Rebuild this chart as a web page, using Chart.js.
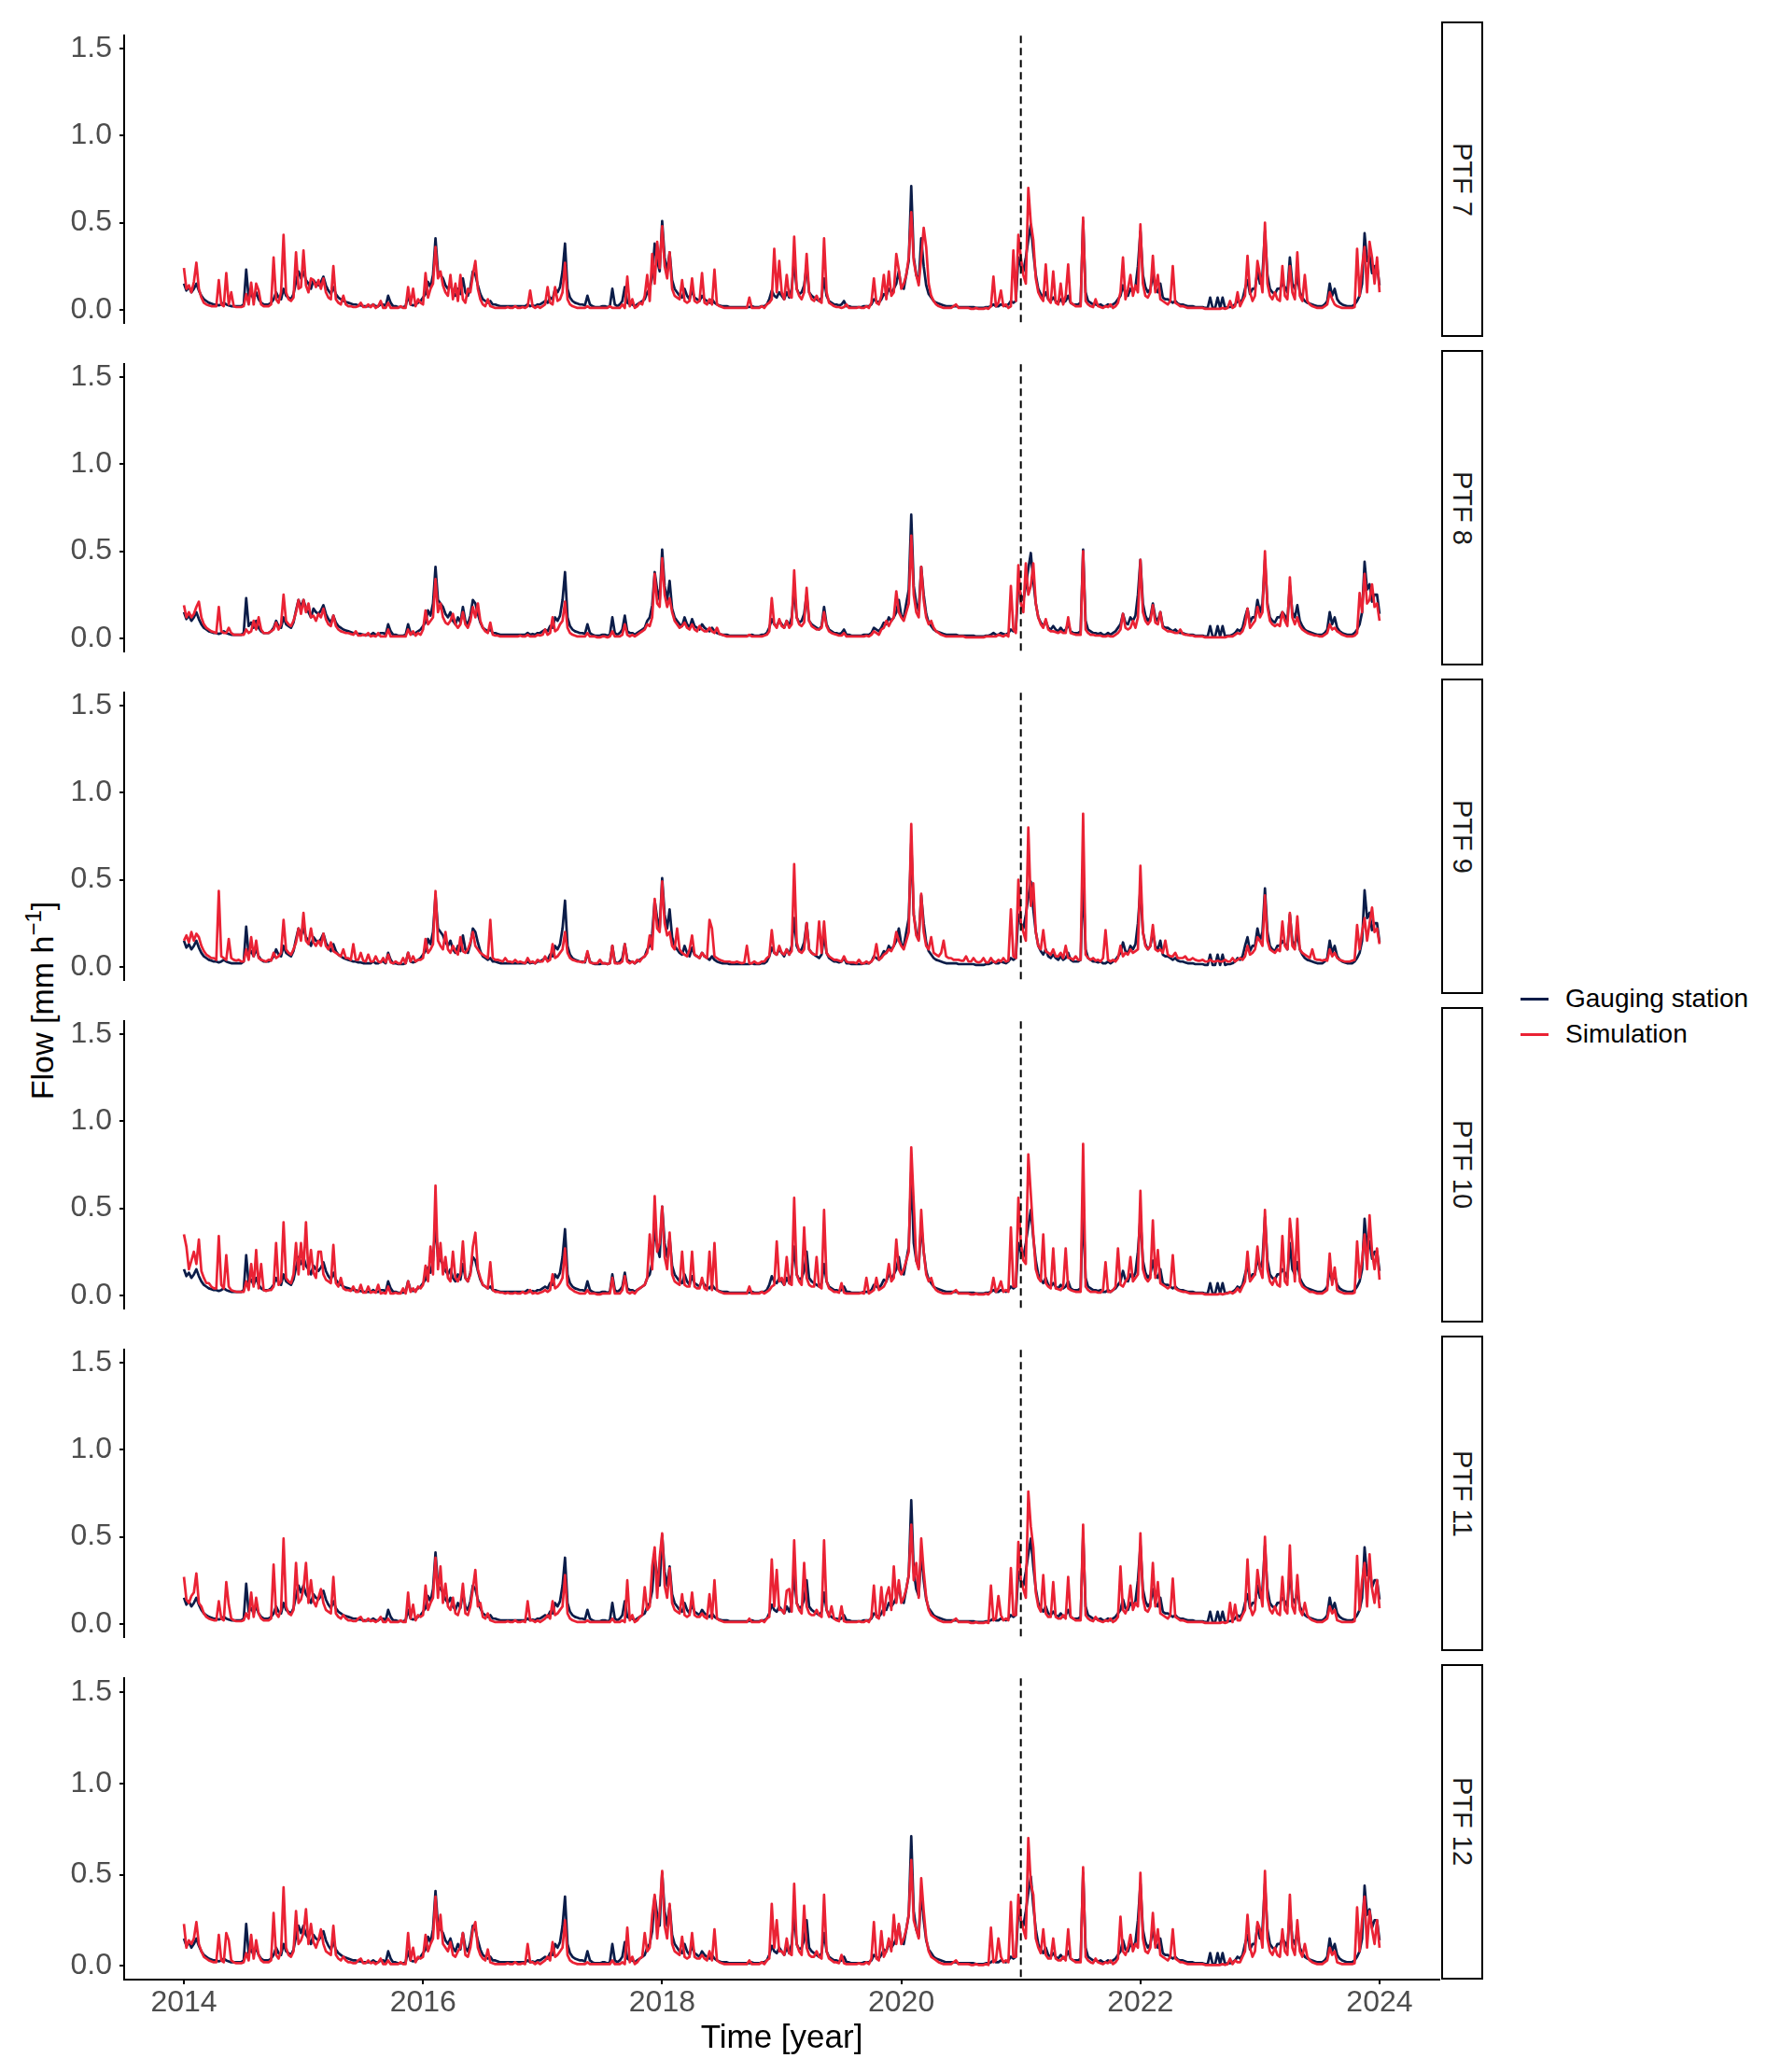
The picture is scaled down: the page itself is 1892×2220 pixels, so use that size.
<!DOCTYPE html>
<html>
<head>
<meta charset="utf-8">
<script src="https://cdn.jsdelivr.net/npm/chart.js@4.4.1/dist/chart.umd.min.js"></script>
<style>
  body { margin: 0; background: #fff; }
  #page { position: relative; width: 1892px; height: 2220px; overflow: hidden; font-family: "Liberation Sans", Arial, sans-serif; }
  .panel { position: absolute; left: 0; }
  .strip { position: absolute; left: 1544px; width: 41px; border: 2px solid #000; background: #fff;
           display: flex; align-items: center; justify-content: center; }
  .strip span { writing-mode: vertical-rl; font-size: 29px; color: #1a1a1a; white-space: nowrap; }
  #ytitle { position: absolute; left: 45px; top: 1072px; transform: translate(-50%, -50%) rotate(-90deg);
            font-size: 34px; color: #000; white-space: nowrap; }
  #ytitle sup { font-size: 24px; vertical-align: 13px; line-height: 0; }
  .key { position: absolute; left: 1629px; width: 30px; height: 3px; }
  .keytext { position: absolute; left: 1677px; font-size: 28px; color: #000; white-space: nowrap; transform: translateY(-50%); }
</style>
</head>
<body>
<div id="page">
  <div id="ytitle">Flow [mm h<sup>−1</sup>]</div>
  <div class="key" style="top:1069px;background:#0b1c48"></div>
  <div class="keytext" style="top:1070px">Gauging station</div>
  <div class="key" style="top:1107px;background:#ea2234"></div>
  <div class="keytext" style="top:1108px">Simulation</div>
</div>
<script>
// time grid: 48 steps per year from 2014.0 to 2024.0
const startYear = 2014;
const stepsPerYear = 48;
const splitYear = 2021;
const xTicks = [2014, 2016, 2018, 2020, 2022, 2024];
const yTicks = [0, 0.5, 1.0, 1.5];
const panelLabels = ['PTF 7', 'PTF 8', 'PTF 9', 'PTF 10', 'PTF 11', 'PTF 12'];

// gauging station (same in every panel)
const obsFlow = [
  0.15,0.11,0.13,0.10,0.12,0.15,0.11,0.08,0.06,0.05,0.04,0.035,0.03,0.03,0.025,0.03,0.04,0.03,0.025,0.02,0.02,0.02,0.02,0.02,0.03,0.23,0.07,0.09,0.06,0.10,0.06,0.04,0.03,0.03,0.03,0.04,0.06,0.10,0.07,0.06,0.12,0.08,0.07,0.06,0.09,0.16,0.22,0.18, // 2014
  0.22,0.17,0.15,0.12,0.17,0.15,0.14,0.16,0.19,0.14,0.11,0.09,0.13,0.09,0.07,0.06,0.05,0.045,0.04,0.035,0.03,0.03,0.025,0.025,0.02,0.02,0.02,0.02,0.03,0.02,0.02,0.03,0.03,0.02,0.08,0.04,0.02,0.02,0.015,0.015,0.015,0.02,0.08,0.03,0.025,0.03,0.04,0.05, // 2015
  0.07,0.09,0.16,0.13,0.20,0.41,0.22,0.20,0.18,0.14,0.12,0.15,0.10,0.08,0.12,0.09,0.18,0.10,0.08,0.13,0.22,0.20,0.14,0.09,0.06,0.05,0.04,0.05,0.03,0.03,0.025,0.02,0.02,0.02,0.02,0.02,0.02,0.02,0.02,0.02,0.02,0.02,0.03,0.02,0.025,0.02,0.03,0.03, // 2016
  0.04,0.05,0.04,0.07,0.06,0.12,0.10,0.13,0.22,0.38,0.12,0.07,0.05,0.04,0.035,0.03,0.03,0.025,0.08,0.03,0.02,0.015,0.015,0.015,0.02,0.02,0.015,0.02,0.12,0.03,0.02,0.03,0.05,0.13,0.04,0.03,0.03,0.02,0.03,0.04,0.05,0.06,0.10,0.12,0.19,0.38,0.28,0.22, // 2017
  0.51,0.30,0.22,0.33,0.17,0.12,0.10,0.08,0.07,0.12,0.08,0.06,0.11,0.07,0.06,0.05,0.08,0.06,0.05,0.04,0.06,0.04,0.03,0.025,0.02,0.02,0.02,0.015,0.015,0.015,0.015,0.015,0.015,0.015,0.015,0.015,0.02,0.015,0.015,0.015,0.02,0.02,0.03,0.06,0.11,0.08,0.07,0.10, // 2018
  0.08,0.06,0.10,0.07,0.12,0.28,0.12,0.09,0.10,0.14,0.25,0.10,0.08,0.07,0.06,0.05,0.07,0.18,0.08,0.05,0.04,0.03,0.03,0.025,0.03,0.05,0.02,0.02,0.015,0.015,0.015,0.015,0.015,0.02,0.02,0.02,0.03,0.06,0.05,0.04,0.06,0.09,0.08,0.12,0.10,0.12,0.15,0.22, // 2019
  0.13,0.12,0.20,0.28,0.71,0.30,0.20,0.16,0.41,0.25,0.14,0.09,0.07,0.05,0.04,0.035,0.03,0.025,0.02,0.02,0.02,0.02,0.02,0.015,0.015,0.015,0.015,0.015,0.015,0.015,0.01,0.01,0.01,0.01,0.015,0.015,0.02,0.03,0.02,0.02,0.03,0.025,0.02,0.03,0.05,0.04,0.05,0.30, // 2020
  0.25,0.22,0.30,0.40,0.49,0.33,0.20,0.12,0.09,0.07,0.10,0.06,0.05,0.07,0.05,0.04,0.06,0.04,0.05,0.08,0.04,0.03,0.03,0.03,0.04,0.51,0.10,0.05,0.04,0.03,0.03,0.025,0.03,0.02,0.02,0.03,0.02,0.03,0.04,0.06,0.08,0.14,0.09,0.08,0.12,0.10,0.13,0.25, // 2021
  0.45,0.20,0.13,0.10,0.12,0.20,0.12,0.10,0.15,0.07,0.06,0.06,0.05,0.04,0.05,0.035,0.03,0.03,0.025,0.02,0.02,0.02,0.015,0.015,0.015,0.015,0.01,0.01,0.07,0.01,0.01,0.07,0.01,0.07,0.01,0.015,0.015,0.02,0.03,0.05,0.04,0.06,0.12,0.17,0.09,0.12,0.12,0.22, // 2022
  0.15,0.20,0.45,0.20,0.12,0.10,0.09,0.12,0.12,0.15,0.13,0.10,0.30,0.15,0.12,0.19,0.10,0.07,0.05,0.04,0.035,0.03,0.025,0.02,0.02,0.02,0.03,0.05,0.15,0.08,0.12,0.06,0.04,0.03,0.025,0.02,0.02,0.02,0.03,0.05,0.08,0.15,0.44,0.28,0.31,0.21,0.25,0.25, // 2023
  0.14
];

const simPTF7 = [
  0.24,0.12,0.14,0.10,0.16,0.27,0.12,0.07,0.04,0.03,0.025,0.02,0.02,0.02,0.17,0.03,0.02,0.21,0.03,0.10,0.02,0.015,0.015,0.015,0.02,0.09,0.03,0.155,0.03,0.15,0.11,0.03,0.02,0.02,0.02,0.03,0.30,0.06,0.04,0.10,0.43,0.10,0.06,0.05,0.07,0.33,0.12,0.13,
  0.34,0.14,0.10,0.18,0.17,0.13,0.17,0.12,0.18,0.10,0.07,0.06,0.25,0.06,0.04,0.03,0.08,0.03,0.02,0.02,0.015,0.015,0.02,0.04,0.015,0.015,0.03,0.015,0.03,0.01,0.02,0.05,0.01,0.01,0.04,0.01,0.01,0.01,0.01,0.02,0.01,0.01,0.13,0.03,0.12,0.02,0.06,0.04,
  0.03,0.21,0.07,0.12,0.15,0.36,0.18,0.22,0.14,0.10,0.08,0.20,0.06,0.15,0.05,0.20,0.06,0.04,0.12,0.10,0.20,0.28,0.12,0.06,0.03,0.02,0.06,0.02,0.015,0.01,0.01,0.01,0.01,0.01,0.015,0.01,0.01,0.02,0.01,0.01,0.015,0.01,0.02,0.11,0.02,0.01,0.02,0.01,
  0.02,0.03,0.13,0.04,0.03,0.13,0.05,0.06,0.10,0.27,0.06,0.03,0.02,0.015,0.01,0.01,0.01,0.01,0.02,0.01,0.01,0.01,0.01,0.01,0.01,0.01,0.01,0.02,0.01,0.01,0.01,0.01,0.03,0.01,0.19,0.02,0.06,0.01,0.02,0.04,0.03,0.08,0.20,0.05,0.32,0.15,0.39,0.24,
  0.48,0.25,0.18,0.33,0.12,0.08,0.07,0.06,0.17,0.05,0.04,0.05,0.18,0.05,0.04,0.05,0.21,0.04,0.03,0.06,0.03,0.23,0.03,0.02,0.015,0.01,0.01,0.01,0.01,0.01,0.01,0.01,0.01,0.01,0.01,0.07,0.01,0.01,0.01,0.01,0.02,0.01,0.03,0.04,0.06,0.35,0.10,0.28,
  0.10,0.06,0.20,0.08,0.07,0.42,0.12,0.08,0.06,0.10,0.32,0.10,0.06,0.05,0.08,0.05,0.04,0.41,0.10,0.04,0.03,0.02,0.015,0.015,0.01,0.015,0.03,0.01,0.01,0.01,0.01,0.015,0.01,0.01,0.02,0.01,0.04,0.18,0.04,0.03,0.08,0.20,0.06,0.22,0.08,0.10,0.32,0.23,
  0.12,0.15,0.20,0.30,0.56,0.28,0.20,0.14,0.30,0.47,0.36,0.15,0.08,0.05,0.03,0.02,0.015,0.01,0.01,0.01,0.01,0.02,0.03,0.01,0.01,0.01,0.01,0.01,0.005,0.005,0.01,0.005,0.005,0.005,0.01,0.005,0.02,0.19,0.02,0.04,0.11,0.02,0.03,0.01,0.02,0.34,0.05,0.43,
  0.30,0.20,0.15,0.70,0.50,0.40,0.18,0.10,0.07,0.05,0.26,0.06,0.04,0.22,0.04,0.03,0.15,0.03,0.08,0.26,0.04,0.03,0.02,0.02,0.02,0.53,0.05,0.03,0.02,0.015,0.06,0.02,0.015,0.01,0.02,0.015,0.03,0.01,0.02,0.04,0.10,0.30,0.06,0.12,0.20,0.08,0.14,0.10,
  0.49,0.15,0.08,0.07,0.10,0.31,0.10,0.20,0.06,0.05,0.04,0.03,0.05,0.25,0.04,0.03,0.02,0.02,0.015,0.01,0.01,0.01,0.01,0.01,0.01,0.01,0.005,0.005,0.005,0.005,0.005,0.005,0.005,0.01,0.005,0.01,0.05,0.01,0.02,0.10,0.02,0.05,0.08,0.31,0.10,0.05,0.08,0.28,
  0.20,0.10,0.50,0.15,0.08,0.06,0.10,0.06,0.05,0.25,0.08,0.06,0.25,0.10,0.06,0.33,0.08,0.05,0.20,0.05,0.03,0.02,0.015,0.01,0.01,0.01,0.02,0.03,0.10,0.06,0.03,0.02,0.015,0.01,0.01,0.01,0.01,0.01,0.015,0.35,0.08,0.25,0.36,0.10,0.39,0.30,0.15,0.30,
  0.10
];

const simPTF8 = [
  0.19,0.12,0.15,0.12,0.14,0.18,0.21,0.12,0.08,0.06,0.05,0.04,0.035,0.03,0.18,0.04,0.03,0.03,0.06,0.03,0.02,0.02,0.02,0.02,0.02,0.05,0.03,0.04,0.10,0.05,0.12,0.05,0.03,0.03,0.03,0.04,0.05,0.09,0.05,0.08,0.25,0.10,0.08,0.07,0.10,0.15,0.22,0.14,
  0.22,0.15,0.20,0.12,0.13,0.10,0.14,0.12,0.17,0.11,0.08,0.07,0.13,0.07,0.05,0.04,0.035,0.03,0.03,0.025,0.02,0.04,0.015,0.015,0.02,0.015,0.03,0.01,0.015,0.01,0.03,0.01,0.01,0.01,0.05,0.01,0.01,0.01,0.01,0.01,0.01,0.01,0.05,0.02,0.04,0.015,0.03,0.02,
  0.05,0.16,0.08,0.10,0.12,0.34,0.15,0.20,0.12,0.09,0.08,0.10,0.14,0.08,0.06,0.08,0.15,0.08,0.06,0.10,0.18,0.12,0.20,0.10,0.06,0.04,0.03,0.09,0.02,0.015,0.015,0.01,0.01,0.01,0.01,0.01,0.01,0.01,0.01,0.015,0.01,0.01,0.02,0.01,0.01,0.01,0.02,0.015,
  0.02,0.05,0.02,0.03,0.12,0.04,0.05,0.08,0.10,0.21,0.06,0.03,0.02,0.015,0.01,0.01,0.01,0.01,0.03,0.01,0.01,0.01,0.005,0.005,0.01,0.01,0.005,0.01,0.04,0.01,0.01,0.01,0.02,0.08,0.02,0.01,0.02,0.01,0.02,0.03,0.04,0.05,0.08,0.07,0.12,0.37,0.20,0.18,
  0.46,0.25,0.18,0.23,0.15,0.10,0.08,0.06,0.07,0.09,0.06,0.05,0.08,0.05,0.04,0.07,0.05,0.04,0.04,0.06,0.04,0.03,0.06,0.025,0.02,0.015,0.01,0.01,0.01,0.01,0.01,0.01,0.01,0.01,0.01,0.02,0.01,0.01,0.01,0.01,0.01,0.015,0.02,0.04,0.23,0.08,0.06,0.11,
  0.07,0.06,0.10,0.06,0.08,0.39,0.12,0.08,0.07,0.09,0.29,0.10,0.07,0.06,0.05,0.05,0.06,0.15,0.07,0.04,0.03,0.025,0.02,0.015,0.015,0.03,0.01,0.01,0.01,0.01,0.01,0.01,0.01,0.01,0.015,0.01,0.02,0.04,0.03,0.02,0.05,0.06,0.10,0.07,0.10,0.12,0.27,0.15,
  0.12,0.10,0.15,0.20,0.59,0.25,0.15,0.12,0.41,0.22,0.12,0.08,0.10,0.06,0.04,0.03,0.02,0.015,0.01,0.01,0.01,0.01,0.01,0.01,0.01,0.01,0.005,0.005,0.005,0.005,0.005,0.005,0.005,0.005,0.01,0.01,0.01,0.01,0.01,0.02,0.015,0.01,0.02,0.01,0.30,0.05,0.03,0.42,
  0.20,0.15,0.43,0.25,0.30,0.43,0.20,0.12,0.08,0.06,0.11,0.05,0.04,0.04,0.035,0.03,0.04,0.03,0.03,0.12,0.03,0.025,0.02,0.02,0.02,0.50,0.05,0.03,0.02,0.02,0.015,0.015,0.015,0.01,0.01,0.015,0.01,0.01,0.02,0.03,0.05,0.14,0.06,0.05,0.06,0.10,0.06,0.12,
  0.45,0.15,0.10,0.08,0.10,0.19,0.09,0.08,0.15,0.06,0.05,0.04,0.04,0.035,0.03,0.03,0.05,0.025,0.02,0.02,0.015,0.015,0.01,0.01,0.01,0.01,0.005,0.005,0.005,0.005,0.005,0.005,0.005,0.005,0.005,0.01,0.01,0.01,0.02,0.03,0.025,0.04,0.08,0.17,0.06,0.08,0.10,0.18,
  0.12,0.15,0.50,0.18,0.10,0.08,0.07,0.08,0.07,0.15,0.10,0.07,0.35,0.12,0.08,0.12,0.07,0.05,0.04,0.03,0.025,0.02,0.015,0.015,0.01,0.01,0.02,0.03,0.08,0.05,0.06,0.04,0.03,0.02,0.015,0.01,0.01,0.01,0.015,0.03,0.26,0.15,0.37,0.20,0.22,0.31,0.18,0.20,
  0.10
];

const simPTF9 = [
  0.15,0.18,0.14,0.20,0.15,0.19,0.17,0.12,0.09,0.07,0.06,0.05,0.05,0.04,0.435,0.06,0.05,0.04,0.16,0.05,0.04,0.035,0.04,0.03,0.03,0.10,0.04,0.17,0.06,0.15,0.05,0.04,0.035,0.03,0.04,0.035,0.08,0.05,0.06,0.08,0.27,0.10,0.08,0.07,0.10,0.14,0.22,0.15,
  0.31,0.15,0.13,0.22,0.14,0.12,0.15,0.12,0.19,0.12,0.10,0.14,0.09,0.08,0.07,0.06,0.10,0.05,0.05,0.04,0.13,0.04,0.04,0.08,0.035,0.03,0.07,0.03,0.03,0.06,0.03,0.025,0.05,0.025,0.07,0.025,0.02,0.03,0.02,0.02,0.05,0.02,0.08,0.03,0.06,0.03,0.04,0.04,
  0.05,0.16,0.08,0.10,0.13,0.435,0.15,0.12,0.10,0.20,0.10,0.08,0.12,0.09,0.07,0.17,0.09,0.08,0.10,0.14,0.20,0.12,0.10,0.08,0.07,0.06,0.05,0.27,0.05,0.04,0.04,0.035,0.03,0.05,0.03,0.03,0.025,0.04,0.025,0.03,0.025,0.02,0.05,0.025,0.03,0.02,0.04,0.03,
  0.03,0.06,0.03,0.04,0.13,0.05,0.06,0.08,0.10,0.20,0.08,0.05,0.04,0.035,0.03,0.03,0.025,0.03,0.09,0.025,0.02,0.02,0.02,0.04,0.02,0.02,0.015,0.02,0.12,0.02,0.02,0.02,0.03,0.13,0.03,0.02,0.03,0.02,0.04,0.03,0.05,0.06,0.08,0.18,0.10,0.39,0.22,0.20,
  0.49,0.25,0.18,0.20,0.12,0.10,0.22,0.10,0.08,0.07,0.06,0.10,0.18,0.07,0.06,0.05,0.08,0.06,0.05,0.27,0.22,0.06,0.05,0.04,0.035,0.03,0.03,0.03,0.025,0.025,0.03,0.025,0.02,0.025,0.12,0.02,0.02,0.03,0.02,0.02,0.03,0.03,0.05,0.06,0.21,0.08,0.07,0.12,
  0.08,0.07,0.10,0.07,0.09,0.59,0.14,0.09,0.08,0.10,0.25,0.10,0.08,0.07,0.07,0.26,0.08,0.26,0.08,0.06,0.05,0.04,0.04,0.035,0.03,0.06,0.03,0.025,0.025,0.025,0.02,0.04,0.02,0.02,0.03,0.02,0.03,0.05,0.13,0.04,0.05,0.07,0.08,0.10,0.09,0.12,0.20,0.15,
  0.12,0.10,0.15,0.20,0.82,0.30,0.18,0.15,0.42,0.20,0.12,0.10,0.17,0.08,0.07,0.06,0.08,0.15,0.06,0.05,0.05,0.04,0.04,0.04,0.035,0.035,0.06,0.03,0.03,0.05,0.03,0.025,0.03,0.05,0.025,0.025,0.05,0.03,0.025,0.04,0.03,0.05,0.03,0.035,0.33,0.06,0.05,0.50,
  0.25,0.20,0.15,0.80,0.35,0.48,0.20,0.12,0.10,0.21,0.09,0.08,0.07,0.10,0.06,0.06,0.08,0.05,0.12,0.05,0.05,0.04,0.06,0.04,0.04,0.88,0.07,0.05,0.04,0.05,0.035,0.04,0.03,0.05,0.21,0.04,0.03,0.04,0.03,0.05,0.12,0.06,0.08,0.07,0.10,0.08,0.09,0.10,
  0.58,0.20,0.12,0.10,0.12,0.24,0.10,0.09,0.10,0.08,0.15,0.07,0.06,0.06,0.08,0.05,0.05,0.05,0.06,0.04,0.04,0.05,0.04,0.035,0.035,0.04,0.03,0.03,0.04,0.03,0.03,0.035,0.03,0.03,0.04,0.03,0.03,0.05,0.03,0.04,0.05,0.04,0.06,0.12,0.07,0.08,0.10,0.17,
  0.15,0.12,0.41,0.15,0.10,0.09,0.08,0.10,0.09,0.26,0.12,0.10,0.31,0.12,0.10,0.29,0.10,0.08,0.07,0.06,0.05,0.10,0.045,0.04,0.04,0.035,0.04,0.035,0.10,0.06,0.08,0.05,0.04,0.035,0.03,0.03,0.03,0.035,0.04,0.24,0.10,0.20,0.28,0.15,0.25,0.34,0.20,0.22,
  0.13
];

const simPTF10 = [
  0.35,0.28,0.15,0.20,0.25,0.18,0.32,0.14,0.10,0.07,0.07,0.05,0.04,0.04,0.34,0.06,0.04,0.23,0.05,0.03,0.025,0.02,0.02,0.02,0.02,0.08,0.03,0.18,0.05,0.26,0.04,0.18,0.03,0.025,0.03,0.03,0.05,0.30,0.06,0.08,0.42,0.10,0.08,0.07,0.12,0.30,0.12,0.30,
  0.15,0.42,0.12,0.26,0.13,0.10,0.25,0.25,0.12,0.09,0.08,0.07,0.29,0.07,0.05,0.10,0.04,0.03,0.03,0.025,0.05,0.02,0.02,0.06,0.015,0.015,0.05,0.015,0.02,0.015,0.06,0.01,0.015,0.01,0.05,0.01,0.01,0.015,0.01,0.01,0.04,0.01,0.08,0.02,0.04,0.02,0.05,0.04,
  0.06,0.17,0.08,0.28,0.12,0.63,0.15,0.30,0.12,0.22,0.10,0.08,0.25,0.10,0.08,0.12,0.31,0.10,0.08,0.12,0.28,0.36,0.15,0.10,0.06,0.05,0.04,0.19,0.03,0.02,0.02,0.015,0.015,0.01,0.015,0.01,0.01,0.015,0.01,0.01,0.02,0.01,0.015,0.03,0.01,0.015,0.01,0.015,
  0.02,0.03,0.02,0.03,0.12,0.04,0.05,0.07,0.10,0.27,0.06,0.04,0.03,0.02,0.015,0.01,0.01,0.01,0.03,0.01,0.01,0.01,0.005,0.005,0.01,0.01,0.01,0.01,0.10,0.01,0.01,0.01,0.03,0.11,0.02,0.01,0.02,0.01,0.03,0.04,0.05,0.06,0.10,0.35,0.15,0.57,0.25,0.30,
  0.51,0.22,0.15,0.36,0.12,0.08,0.07,0.06,0.25,0.06,0.05,0.05,0.25,0.05,0.04,0.04,0.10,0.04,0.03,0.25,0.03,0.30,0.03,0.02,0.015,0.01,0.01,0.01,0.01,0.01,0.01,0.01,0.01,0.01,0.01,0.05,0.01,0.01,0.01,0.01,0.02,0.01,0.02,0.03,0.05,0.06,0.31,0.08,
  0.10,0.06,0.22,0.07,0.06,0.56,0.12,0.08,0.06,0.39,0.10,0.06,0.05,0.05,0.22,0.05,0.04,0.49,0.08,0.04,0.03,0.02,0.02,0.015,0.07,0.015,0.01,0.01,0.01,0.01,0.01,0.01,0.015,0.01,0.10,0.01,0.02,0.03,0.10,0.03,0.04,0.05,0.08,0.18,0.08,0.10,0.32,0.15,
  0.12,0.15,0.20,0.25,0.85,0.53,0.20,0.15,0.49,0.25,0.12,0.08,0.10,0.05,0.03,0.02,0.015,0.01,0.01,0.01,0.01,0.02,0.03,0.01,0.01,0.01,0.01,0.01,0.005,0.005,0.01,0.005,0.005,0.005,0.01,0.005,0.02,0.10,0.02,0.04,0.08,0.02,0.03,0.02,0.39,0.05,0.05,0.56,
  0.30,0.20,0.18,0.81,0.58,0.35,0.15,0.10,0.08,0.35,0.07,0.05,0.04,0.27,0.04,0.035,0.03,0.05,0.27,0.04,0.03,0.025,0.02,0.02,0.02,0.87,0.05,0.03,0.02,0.02,0.02,0.015,0.015,0.03,0.19,0.02,0.02,0.03,0.05,0.27,0.06,0.05,0.08,0.10,0.22,0.08,0.10,0.12,
  0.60,0.15,0.10,0.08,0.10,0.43,0.10,0.26,0.07,0.06,0.05,0.04,0.05,0.23,0.04,0.03,0.025,0.02,0.02,0.015,0.01,0.01,0.01,0.01,0.01,0.01,0.005,0.005,0.005,0.005,0.005,0.005,0.01,0.005,0.01,0.01,0.02,0.01,0.02,0.04,0.02,0.05,0.08,0.25,0.08,0.10,0.12,0.28,
  0.15,0.10,0.49,0.15,0.08,0.06,0.10,0.06,0.05,0.34,0.08,0.06,0.44,0.30,0.08,0.44,0.08,0.05,0.04,0.03,0.02,0.02,0.015,0.01,0.01,0.01,0.02,0.03,0.24,0.06,0.16,0.03,0.02,0.015,0.01,0.01,0.01,0.01,0.015,0.31,0.10,0.20,0.35,0.15,0.46,0.25,0.15,0.27,
  0.09
];

const simPTF11 = [
  0.27,0.14,0.12,0.16,0.18,0.29,0.12,0.10,0.06,0.04,0.03,0.025,0.02,0.02,0.13,0.03,0.02,0.24,0.11,0.03,0.02,0.015,0.015,0.015,0.02,0.06,0.03,0.18,0.04,0.15,0.06,0.03,0.02,0.02,0.02,0.03,0.34,0.06,0.04,0.08,0.49,0.10,0.06,0.05,0.08,0.35,0.12,0.14,
  0.20,0.35,0.12,0.25,0.13,0.10,0.15,0.20,0.12,0.08,0.07,0.06,0.27,0.06,0.04,0.03,0.05,0.03,0.02,0.02,0.015,0.015,0.03,0.04,0.015,0.015,0.03,0.015,0.02,0.01,0.02,0.04,0.01,0.01,0.03,0.01,0.01,0.01,0.01,0.02,0.01,0.01,0.18,0.03,0.11,0.02,0.05,0.04,
  0.05,0.22,0.08,0.12,0.15,0.38,0.15,0.33,0.12,0.23,0.10,0.08,0.15,0.06,0.05,0.10,0.23,0.06,0.05,0.10,0.20,0.31,0.10,0.12,0.04,0.03,0.06,0.02,0.015,0.01,0.01,0.01,0.01,0.01,0.015,0.01,0.01,0.02,0.01,0.01,0.015,0.01,0.13,0.02,0.02,0.01,0.02,0.01,
  0.02,0.03,0.05,0.03,0.13,0.05,0.06,0.08,0.10,0.28,0.06,0.03,0.02,0.015,0.01,0.01,0.01,0.01,0.02,0.01,0.01,0.01,0.01,0.01,0.01,0.01,0.01,0.01,0.03,0.01,0.01,0.01,0.02,0.01,0.25,0.02,0.05,0.01,0.02,0.04,0.05,0.21,0.08,0.10,0.33,0.44,0.15,0.38,
  0.52,0.22,0.15,0.32,0.12,0.08,0.07,0.06,0.17,0.05,0.04,0.05,0.18,0.05,0.04,0.04,0.06,0.04,0.03,0.17,0.03,0.25,0.03,0.02,0.015,0.01,0.01,0.01,0.01,0.01,0.01,0.01,0.01,0.01,0.01,0.03,0.01,0.01,0.01,0.01,0.02,0.01,0.03,0.04,0.37,0.10,0.31,0.08,
  0.08,0.06,0.19,0.20,0.07,0.48,0.12,0.08,0.06,0.35,0.10,0.06,0.05,0.05,0.08,0.05,0.04,0.48,0.08,0.04,0.10,0.03,0.02,0.015,0.10,0.015,0.01,0.01,0.01,0.01,0.01,0.015,0.01,0.01,0.02,0.01,0.04,0.22,0.04,0.03,0.21,0.05,0.16,0.21,0.08,0.33,0.12,0.25,
  0.12,0.15,0.20,0.28,0.57,0.25,0.35,0.15,0.49,0.30,0.15,0.08,0.05,0.04,0.03,0.02,0.015,0.01,0.01,0.01,0.01,0.02,0.03,0.01,0.01,0.01,0.01,0.01,0.005,0.005,0.01,0.005,0.005,0.005,0.01,0.005,0.22,0.02,0.03,0.16,0.05,0.02,0.03,0.02,0.32,0.05,0.05,0.47,
  0.25,0.20,0.15,0.76,0.56,0.44,0.18,0.10,0.07,0.28,0.06,0.04,0.04,0.24,0.04,0.03,0.03,0.05,0.03,0.27,0.04,0.03,0.02,0.02,0.02,0.57,0.05,0.03,0.02,0.015,0.04,0.02,0.015,0.01,0.02,0.015,0.03,0.01,0.02,0.04,0.33,0.08,0.06,0.10,0.22,0.08,0.12,0.10,
  0.52,0.15,0.08,0.07,0.10,0.35,0.10,0.24,0.06,0.05,0.04,0.03,0.05,0.26,0.04,0.03,0.02,0.02,0.015,0.01,0.01,0.01,0.01,0.01,0.01,0.01,0.005,0.005,0.005,0.005,0.005,0.005,0.005,0.01,0.005,0.01,0.12,0.01,0.11,0.02,0.02,0.05,0.08,0.37,0.10,0.05,0.08,0.31,
  0.20,0.10,0.50,0.15,0.08,0.06,0.10,0.06,0.05,0.27,0.08,0.06,0.45,0.10,0.06,0.28,0.08,0.05,0.12,0.05,0.03,0.02,0.015,0.01,0.01,0.01,0.02,0.03,0.10,0.06,0.08,0.02,0.015,0.01,0.01,0.01,0.01,0.01,0.015,0.39,0.08,0.25,0.35,0.10,0.40,0.20,0.12,0.25,
  0.09
];

const simPTF12 = [
  0.23,0.10,0.14,0.12,0.15,0.24,0.12,0.08,0.05,0.04,0.03,0.025,0.02,0.02,0.17,0.03,0.02,0.18,0.14,0.03,0.02,0.015,0.015,0.015,0.02,0.07,0.03,0.17,0.04,0.14,0.06,0.03,0.02,0.02,0.02,0.03,0.29,0.06,0.04,0.08,0.43,0.10,0.06,0.05,0.08,0.30,0.12,0.14,
  0.18,0.31,0.12,0.23,0.13,0.10,0.14,0.20,0.12,0.08,0.07,0.06,0.22,0.06,0.04,0.03,0.05,0.03,0.02,0.02,0.015,0.015,0.03,0.04,0.015,0.015,0.03,0.015,0.02,0.01,0.02,0.04,0.01,0.01,0.03,0.01,0.01,0.01,0.01,0.02,0.01,0.01,0.18,0.03,0.10,0.02,0.05,0.04,
  0.05,0.17,0.08,0.12,0.15,0.38,0.15,0.28,0.12,0.10,0.08,0.13,0.06,0.05,0.08,0.10,0.18,0.06,0.05,0.10,0.20,0.24,0.10,0.06,0.04,0.03,0.09,0.02,0.015,0.01,0.01,0.01,0.01,0.01,0.015,0.01,0.01,0.02,0.01,0.01,0.015,0.01,0.12,0.02,0.02,0.01,0.02,0.01,
  0.02,0.03,0.05,0.03,0.13,0.05,0.06,0.08,0.10,0.25,0.06,0.03,0.02,0.015,0.01,0.01,0.01,0.01,0.02,0.01,0.01,0.01,0.01,0.01,0.01,0.01,0.01,0.01,0.03,0.01,0.01,0.01,0.02,0.01,0.21,0.02,0.05,0.01,0.02,0.04,0.05,0.18,0.08,0.10,0.28,0.39,0.15,0.30,
  0.52,0.22,0.15,0.34,0.12,0.08,0.07,0.06,0.16,0.05,0.04,0.05,0.18,0.05,0.04,0.04,0.06,0.04,0.03,0.08,0.03,0.20,0.03,0.02,0.015,0.01,0.01,0.01,0.01,0.01,0.01,0.01,0.01,0.01,0.01,0.03,0.01,0.01,0.01,0.01,0.02,0.01,0.03,0.04,0.34,0.10,0.25,0.08,
  0.08,0.06,0.15,0.07,0.06,0.45,0.12,0.08,0.06,0.33,0.10,0.06,0.05,0.05,0.08,0.05,0.04,0.39,0.08,0.04,0.03,0.02,0.02,0.015,0.06,0.015,0.01,0.01,0.01,0.01,0.01,0.015,0.01,0.01,0.02,0.01,0.04,0.24,0.04,0.03,0.19,0.05,0.08,0.15,0.08,0.28,0.12,0.23,
  0.12,0.15,0.20,0.28,0.58,0.25,0.20,0.15,0.48,0.30,0.15,0.08,0.05,0.04,0.03,0.02,0.015,0.01,0.01,0.01,0.01,0.02,0.03,0.01,0.01,0.01,0.01,0.01,0.005,0.005,0.01,0.005,0.005,0.005,0.01,0.005,0.21,0.02,0.03,0.15,0.05,0.02,0.03,0.02,0.35,0.05,0.05,0.39,
  0.25,0.20,0.15,0.70,0.45,0.39,0.15,0.10,0.07,0.20,0.06,0.04,0.04,0.15,0.04,0.03,0.03,0.05,0.03,0.20,0.04,0.03,0.02,0.02,0.02,0.54,0.05,0.03,0.02,0.015,0.04,0.02,0.015,0.01,0.02,0.015,0.03,0.01,0.02,0.04,0.27,0.08,0.06,0.10,0.17,0.08,0.12,0.10,
  0.51,0.15,0.08,0.07,0.10,0.29,0.10,0.20,0.06,0.05,0.04,0.03,0.05,0.20,0.04,0.03,0.02,0.02,0.015,0.01,0.01,0.01,0.01,0.01,0.01,0.01,0.005,0.005,0.005,0.005,0.005,0.005,0.005,0.01,0.005,0.01,0.04,0.01,0.03,0.02,0.02,0.05,0.08,0.28,0.10,0.05,0.08,0.24,
  0.20,0.10,0.52,0.15,0.08,0.06,0.10,0.06,0.05,0.20,0.08,0.06,0.39,0.10,0.06,0.25,0.08,0.05,0.12,0.05,0.03,0.02,0.015,0.01,0.01,0.01,0.02,0.03,0.10,0.06,0.08,0.02,0.015,0.01,0.01,0.01,0.01,0.01,0.015,0.32,0.08,0.25,0.38,0.10,0.30,0.20,0.12,0.25,
  0.10
];

const simSeries = [simPTF7, simPTF8, simPTF9, simPTF10, simPTF11, simPTF12];

const obsColor = '#0b1c48';
const simColor = '#ea2234';
const tickColor = '#4d4d4d';
Chart.defaults.font.family = '"Liberation Sans", Arial, sans-serif';

// layout of the facet grid (pixels)
const panelTop = 23, panelPitch = 352, panelHeight = 338;
const plotLeft = 133, plotRight = 1542, canvasWidth = 1560, pad = 12;

function toPoints(values) {
  return values.map((v, i) => ({ x: startYear + i / stepsPerYear, y: v }));
}

const splitLine = {
  id: 'splitLine',
  afterDatasetsDraw(chart) {
    const { ctx, chartArea, scales } = chart;
    const x = scales.x.getPixelForValue(splitYear);
    ctx.save();
    ctx.strokeStyle = '#000';
    ctx.lineWidth = 2;
    ctx.setLineDash([8, 5]);
    ctx.beginPath();
    ctx.moveTo(x, chartArea.top);
    ctx.lineTo(x, chartArea.bottom);
    ctx.stroke();
    ctx.restore();
  }
};

const page = document.getElementById('page');

panelLabels.forEach((label, k) => {
  const last = k === panelLabels.length - 1;
  const top = panelTop + k * panelPitch;
  const h = last ? 2220 - (top - pad) : panelHeight + 2 * pad;

  const box = document.createElement('div');
  box.className = 'panel';
  box.style.top = (top - pad) + 'px';
  const canvas = document.createElement('canvas');
  canvas.width = canvasWidth;
  canvas.height = h;
  box.appendChild(canvas);
  page.appendChild(box);

  const strip = document.createElement('div');
  strip.className = 'strip';
  strip.style.top = top + 'px';
  strip.style.height = (panelHeight - 4) + 'px';
  strip.innerHTML = '<span>' + label + '</span>';
  page.appendChild(strip);

  new Chart(canvas, {
    type: 'line',
    data: {
      datasets: [
        { label: 'Simulation', data: toPoints(simSeries[k]), borderColor: simColor, borderWidth: 2.7,
          pointRadius: 0, tension: 0, borderJoinStyle: 'round', order: 0 },
        { label: 'Gauging station', data: toPoints(obsFlow), borderColor: obsColor, borderWidth: 2.7,
          pointRadius: 0, tension: 0, borderJoinStyle: 'round', order: 1 }
      ]
    },
    options: {
      responsive: false,
      animation: false,
      layout: { autoPadding: false, padding: { left: 0, right: canvasWidth - plotRight, top: pad, bottom: last ? 0 : pad } },
      plugins: { legend: { display: false }, tooltip: { enabled: false } },
      scales: {
        x: {
          type: 'linear', min: 2013.5, max: 2024.5, display: last,
          afterBuildTicks: s => { s.ticks = xTicks.map(v => ({ value: v })); },
          afterFit: s => { s.height = h - pad - panelHeight; },
          ticks: { callback: v => String(v), color: tickColor, font: { size: 32 }, padding: 1, maxRotation: 0, autoSkip: false },
          grid: { drawOnChartArea: false, drawTicks: true, tickLength: 5, color: '#000', lineWidth: 2 },
          border: { display: true, color: '#000', width: 2 },
          title: { display: true, text: 'Time [year]', color: '#000', font: { size: 35 }, padding: { top: 0, bottom: 15 } }
        },
        y: {
          min: -0.075, max: 1.575,
          afterBuildTicks: s => { s.ticks = yTicks.map(v => ({ value: v })); },
          afterFit: s => { s.width = plotLeft; },
          ticks: { callback: v => v.toFixed(1), color: tickColor, font: { size: 32 }, padding: 8 },
          grid: { drawOnChartArea: false, drawTicks: true, tickLength: 5, color: '#000', lineWidth: 2 },
          border: { display: true, color: '#000', width: 2 }
        }
      }
    },
    plugins: [splitLine]
  });
});
</script>
</body>
</html>
